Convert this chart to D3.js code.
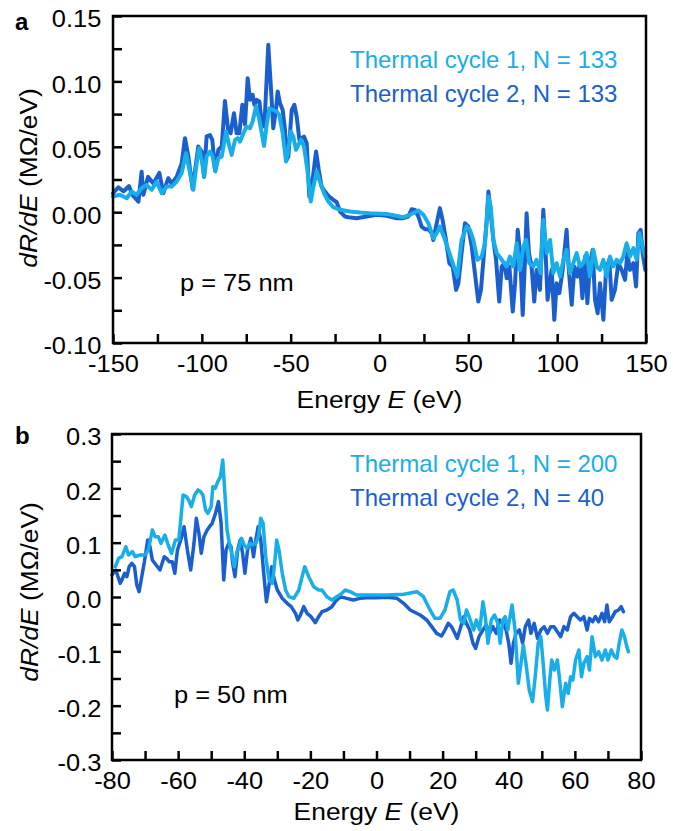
<!DOCTYPE html>
<html>
<head>
<meta charset="utf-8">
<script src="https://cdn.jsdelivr.net/npm/d3@7"></script>
<style>
  body { margin: 0; background: #fff; }
  text { font-family: "Liberation Sans", Arial, Helvetica, sans-serif; }
</style>
</head>
<body>
<svg id="chart" width="673" height="831"></svg>
<script>
// ---- panel a, p = 75 nm ----
let aEnergy1 = [-150,-146.1,-142.3,-139.5,-136.7,-133.9,-131.1,-128.2,-125.4,-122.6,-119.8,-117,-114.2,-111.4,-108.9,-107,-104.8,-102.9,-101.6,-100.1,-98.6,-97.3,-95.4,-93.9,-92.4,-90.7,-88.8,-86.4,-84.5,-83.2,-81.3,-79.8,-78.5,-76.6,-74.8,-72.9,-71.4,-69.5,-67.6,-66.3,-65,-63.5,-62,-59.8,-57.9,-56.4,-54.5,-52.6,-51.3,-50,-48.5,-47,-45.7,-44.2,-42.5,-40.6,-38.7,-37.2,-35.3,-33.5,-31.2,-28.8,-26,-22.2,-16.6,-10.9,-5.4,4,13.4,17.2,21.9,24.7,27.5,30.3,32.2,34,36.9,40.6,43.8,46.2,49.1,50.9,52.8,55.1,57.5,59.4,61.3,62.6,64.1,66,68.8,71.6,73.4,75.3,77.2,79.1,81,82.5,84.3,86.6,88.4,90.7,92.2,94.1,96,97.8,99.7,101.6,103.5,105.3,107.2,109.1,111,112.8,114.7,116.6,118.5,120.4,122.2,124.1,126,127.8,129.7,131.6,133.5,135.4,137.2,139.1,141,142.9,144.7,146.3,147.6,149.6];
let aValue1 = [0.012,0.0133,0.0107,0.0158,0.0133,0.0183,0.0209,0.0171,0.0234,0.0145,0.0196,0.0196,0.0234,0.0298,0.0451,0.0324,0.0171,0.0375,0.0489,0.04,0.0273,0.0426,0.0464,0.0426,0.0311,0.0413,0.0426,0.0617,0.0502,0.0438,0.0553,0.0566,0.054,0.0604,0.0655,0.0642,0.0693,0.0808,0.0706,0.0604,0.0507,0.0668,0.0795,0.0782,0.077,0.0744,0.0604,0.0387,0.0477,0.0617,0.0578,0.0477,0.0515,0.0553,0.0502,0.0324,0.0082,0.0196,0.0311,0.0234,0.0145,0.0082,0.0038,0.0018,0.0005,-0.0003,-0.0008,-0.0013,-0.0038,-0.002,0.0013,-0.002,-0.0084,-0.0199,-0.016,-0.011,-0.0212,-0.0364,-0.0492,-0.0212,-0.011,-0.0135,-0.0212,-0.0364,-0.0339,-0.0237,0.012,0.0043,-0.0212,-0.0313,-0.0364,-0.0415,-0.0339,-0.0415,-0.0237,-0.0441,-0.0262,-0.0212,-0.039,-0.0415,-0.0364,-0.0466,-0.0059,-0.0313,-0.0212,-0.0466,-0.039,-0.0492,-0.0364,-0.0288,-0.0466,-0.039,-0.0313,-0.0415,-0.039,-0.0313,-0.0492,-0.0288,-0.0415,-0.0441,-0.0364,-0.0492,-0.0339,-0.0415,-0.0364,-0.039,-0.0339,-0.0237,-0.0339,-0.0275,-0.0364,-0.016,-0.0237,-0.0339];

let aEnergy2 = [-150,-147,-144,-141,-139,-135.7,-133.9,-132.9,-130.3,-127.3,-123.9,-121.7,-118.9,-117,-114.2,-111.4,-109.5,-107.6,-105.2,-102,-100.1,-98.8,-97.3,-95.4,-94.1,-92.6,-90.7,-88.8,-87,-85.1,-83.8,-81.9,-80.4,-78.9,-77.2,-75.7,-74.2,-72.9,-71.4,-70.4,-69.1,-67.6,-66.3,-64.8,-62.6,-60.7,-59.8,-58.3,-57.3,-56,-54.5,-53.2,-52.3,-51.3,-49.4,-47.9,-46.6,-45.1,-43.8,-42.5,-41,-39.5,-38.7,-37.2,-35.7,-34.2,-32.6,-30.7,-28.8,-26,-24.1,-22.2,-19.4,-17.5,-12.9,-7.2,-1.6,4,9.7,13.4,16.2,18.1,20,21.9,23.7,25.6,27.5,29.4,30.3,32.2,34,35.5,37.4,39.3,41.2,43.1,44.4,46.2,48.1,50,51.9,53.7,55.6,57.1,58.8,60.3,61.3,62.6,64.1,65.6,67.4,68.8,70.3,71.6,73.1,75,76.3,77.8,79.1,80.6,81.9,82.8,84.1,85.6,87.1,88.4,90.3,92.2,93.5,94.6,96.9,98.4,99.7,101.2,103.1,105.3,106.7,108.2,109.7,111.3,112.8,114.2,115.7,117,118.5,120,121.3,122.8,124.1,126,127.5,129.3,130.7,132.5,134.4,136.3,138.2,139.5,141,142.9,144.4,145.7,147,148.1,149.6];
let aValue2 = [0.0145,0.019,0.016,0.02,0.013,0.008,0.031,0.0133,0.027,0.022,0.03,0.0145,0.026,0.022,0.027,0.037,0.0566,0.0426,0.018,0.0502,0.0464,0.027,0.058,0.059,0.0553,0.032,0.0477,0.0502,0.085,0.0617,0.0604,0.0757,0.0604,0.0604,0.0821,0.0668,0.1025,0.0859,0.0897,0.0821,0.0859,0.0846,0.068,0.0655,0.128,0.0859,0.0642,0.0782,0.0923,0.0833,0.0782,0.0629,0.04,0.0426,0.0782,0.0821,0.0731,0.0553,0.0566,0.0578,0.0528,0.012,0.013,0.03,0.0464,0.0324,0.0196,0.0158,0.0125,0.0094,0.0076,0.0005,-0.0033,-0.0038,-0.0046,-0.0033,-0.002,-0.0028,-0.0046,-0.0046,-0.0033,0.0023,0.0018,-0.0033,-0.011,-0.013,-0.013,-0.016,-0.0212,-0.0084,0.0031,-0.0059,-0.0212,-0.039,-0.0415,-0.0594,-0.0543,-0.0313,-0.0084,-0.011,-0.0262,-0.0466,-0.0683,-0.0594,-0.0313,-0.0071,0.0158,-0.0008,-0.0212,-0.0364,-0.0683,-0.0415,-0.039,-0.0505,-0.0415,-0.0759,-0.0543,-0.0135,-0.0313,-0.0785,-0.0364,-0.0008,-0.0313,-0.0415,-0.0683,-0.0441,-0.0594,0.0018,-0.0313,-0.067,-0.0441,-0.0823,-0.0543,-0.0619,-0.0441,-0.0135,-0.0466,-0.0708,-0.0415,-0.0492,-0.039,-0.0657,-0.0339,-0.0696,-0.039,-0.0288,-0.067,-0.0772,-0.0543,-0.0823,-0.0441,-0.0364,-0.067,-0.0594,-0.039,-0.0441,-0.0517,-0.0313,-0.0441,-0.039,-0.0568,-0.016,-0.0135,-0.0313,-0.0441];

// ---- panel b, p = 50 nm ----
let bEnergy1 = [-79,-78,-77,-75.8,-75,-73.8,-73,-71.5,-70,-69,-67.8,-67,-66,-65.2,-64,-63,-62,-60.8,-59.8,-58.5,-57.5,-56.8,-56,-55,-54,-53.2,-52.5,-51.7,-51,-50,-49.5,-48.8,-48,-47.2,-46.5,-45.8,-45.2,-44.5,-44,-43,-42.2,-41.5,-40.8,-40,-39.2,-38.3,-37.5,-36.5,-35.7,-35,-34.3,-33.5,-32.5,-31.5,-30.8,-30.2,-29.5,-28.5,-27.5,-26.5,-25,-23.5,-22.5,-21.7,-20.5,-19,-17.5,-16.5,-15,-13.5,-12,-10.5,-9.5,-8,-6,-3,0,3.2,8.2,12.2,14.2,16.2,17.7,19.2,20.7,22.2,23.2,24.4,25.4,26.4,27.2,28,28.7,29.4,30.2,31.2,32.2,32.9,33.7,34.7,35.7,36.7,37.4,38.2,38.9,39.7,41,41.9,42.9,43.7,44.4,45.2,46.2,47.2,48,48.9,49.7,50.4,51.2,51.7,52.4,53,53.8,54.7,55.4,56.2,57.2,58,58.7,59.4,60.2,61.2,62,62.7,63.7,64.4,65.2,66.2,67.2,68.2,69.2,70,71,72,72.7,73.4,74.2,75,75.7,76.2];
let bValue1 = [0.0558,0.0712,0.0742,0.0926,0.0773,0.0834,0.0742,0.0773,0.0773,0.0865,0.1233,0.111,0.111,0.0988,0.1141,0.0957,0.0804,0.1049,0.1049,0.1877,0.1847,0.1785,0.1663,0.1877,0.197,0.1939,0.1877,0.1601,0.154,0.1663,0.203,0.2,0.2123,0.2215,0.252,0.1847,0.1233,0.0988,0.0865,0.0558,0.0834,0.0926,0.108,0.0957,0.0896,0.0988,0.0957,0.0988,0.111,0.1448,0.1356,0.0742,0.0313,0.0252,0.062,0.1049,0.0865,0.0436,0.0129,0.0006,-0.0025,0.0129,0.0374,0.0558,0.0374,0.019,0.0129,0.0129,0.0006,-0.0055,0.0006,0.0067,0.0129,0.0098,0.0037,0.0037,0.0037,0.0037,0.0049,0.0098,0.0006,-0.0239,-0.0393,-0.0393,-0.0239,0.0098,0.0129,-0.0055,-0.0423,-0.0485,-0.0239,-0.0362,-0.0485,-0.0607,-0.0423,-0.0607,-0.0086,-0.0362,-0.0853,-0.0423,-0.0331,-0.0485,-0.0853,-0.0423,-0.0362,-0.0607,-0.0147,-0.0607,-0.1589,-0.1221,-0.0883,-0.1221,-0.1712,-0.1926,-0.1466,-0.0853,-0.073,-0.1221,-0.1834,-0.208,-0.1528,-0.116,-0.1344,-0.116,-0.1528,-0.2018,-0.1589,-0.1773,-0.1466,-0.1528,-0.116,-0.0975,-0.1466,-0.1221,-0.1098,-0.1344,-0.073,-0.1098,-0.1006,-0.116,-0.0975,-0.116,-0.0975,-0.1098,-0.1129,-0.0853,-0.0607,-0.073,-0.0914,-0.1006];

let bEnergy2 = [-80,-78.8,-78.2,-77.5,-77,-76.2,-75.5,-74.8,-74,-73.2,-72.5,-71.8,-71,-70.2,-69.2,-68.5,-67.8,-65.5,-64.2,-63.5,-62.7,-61.8,-61,-60.2,-59.2,-58.2,-57.2,-56.2,-55.2,-54.5,-53.7,-53,-52.2,-51.2,-50.5,-49.7,-48.7,-47.8,-47,-46.2,-45.5,-44.7,-44,-43.5,-42.8,-42,-41.2,-40.5,-39.8,-39,-38,-37.2,-36.5,-35.8,-35,-34.2,-33.3,-32.5,-31.7,-31,-30,-28.5,-27,-25.8,-24.5,-23.8,-23,-22,-21,-19.8,-18.5,-17.5,-16.5,-15,-13.5,-12.5,-11,-9,-7,-5,-3,0,3.2,6.2,8.2,10.2,13.2,15.2,16.7,18.2,19.7,20.7,21.7,22.7,23.7,24.4,25.2,26.4,27.2,28.2,29.2,30,31,32.2,33.2,34.2,35.2,36.2,37.2,38.2,39.2,40,40.7,41.4,42.2,43.2,44.2,45,46,46.7,47.7,48.7,49.7,50.7,51.7,52.7,53.7,54.7,55.7,56.7,57.7,58.7,59.7,60.7,61.7,62.7,63.7,64.4,65.4,66.2,67.2,68.2,69,69.7,70.4,71.4,72.2,73.2,74,74.7];
let bValue2 = [0.0405,0.0497,0.0374,0.0252,0.0313,0.0436,0.0374,0.0558,0.062,0.0558,0.0221,0.0098,0.0374,0.065,0.1049,0.0926,0.0681,0.0497,0.0742,0.0712,0.065,0.065,0.0436,0.0865,0.1049,0.1294,0.0865,0.0497,0.0988,0.1448,0.1172,0.0804,0.111,0.1233,0.1294,0.1356,0.154,0.1755,0.1356,0.0313,0.0865,0.0988,0.0926,0.062,0.0374,0.0865,0.1049,0.0804,0.0436,0.0865,0.108,0.0742,0.1049,0.1294,0.1049,0.0497,-0.0086,0.0221,0.0558,0.0344,0.0129,-0.0025,-0.0117,-0.0178,-0.0301,-0.0423,-0.0331,-0.0178,-0.0301,-0.0362,-0.0472,-0.0362,-0.027,-0.0239,-0.0178,-0.0086,0.0006,-0.0025,-0.0055,-0.0025,-0.0012,-0.0012,-0.0006,-0.0025,-0.0117,-0.0239,-0.0331,-0.0423,-0.0546,-0.0669,-0.0718,-0.0607,-0.0485,-0.0546,-0.0669,-0.0761,-0.0607,-0.0362,-0.0485,-0.0607,-0.0853,-0.0945,-0.073,-0.0607,-0.0515,-0.0669,-0.0546,-0.0669,-0.0423,-0.0485,-0.0607,-0.0853,-0.1221,-0.0853,-0.0669,-0.0607,-0.0853,-0.0546,-0.0423,-0.0669,-0.0485,-0.0761,-0.0607,-0.0546,-0.0669,-0.0546,-0.0546,-0.0638,-0.073,-0.0546,-0.0607,-0.0362,-0.0301,-0.0362,-0.0423,-0.0362,-0.0607,-0.0393,-0.0454,-0.0362,-0.0454,-0.0301,-0.0454,-0.0147,-0.0454,-0.0362,-0.027,-0.0239,-0.0178,-0.027];

// ---- ticks and labels ----
let aXTicks = [-150,-125,-100,-75,-50,-25,0,25,50,75,100,125,150];
let aXLabeled = [-150,-100,-50,0,50,100,150];
let aYTicks = [-0.1,-0.075,-0.05,-0.025,0,0.025,0.05,0.075,0.1,0.125,0.15];
let aYLabeled = [-0.1,-0.05,0,0.05,0.1,0.15];
let bXTicks = [-80,-70,-60,-50,-40,-30,-20,-10,0,10,20,30,40,50,60,70,80];
let bXLabeled = [-80,-60,-40,-20,0,20,40,60,80];
let bYTicks = [-0.3,-0.25,-0.2,-0.15,-0.1,-0.05,0,0.05,0.1,0.15,0.2,0.25,0.3];
let bYLabeled = [-0.3,-0.2,-0.1,0,0.1,0.2,0.3];

let aLegend = ["Thermal cycle 1, N = 133", "Thermal cycle 2, N = 133"];
let bLegend = ["Thermal cycle 1, N = 200", "Thermal cycle 2, N = 40"];

let lightBlue = "#17aeea";
let darkBlue = "#1b5fcf";

let svg = d3.select("#chart");

function isIn(list, d){
	return list.some(function(v){ return Math.abs(v - d) < 1e-9; });
}

function drawPanel(p){
	let x = d3.scaleLinear().domain(p.xDomain).range([p.left, p.right]);
	let y = d3.scaleLinear().domain(p.yDomain).range([p.bottom, p.top]);
	let g = svg.append("g");

	let line = d3.line()
		.x(function(d){ return x(d[0]); })
		.y(function(d){ return y(d[1]); });

	// dark first, light drawn over it
	p.series.forEach(function(s){
		g.append("path")
			.datum(d3.zip(s.energy, s.value))
			.attr("fill", "none")
			.attr("stroke", s.color)
			.attr("stroke-width", p.lineWidth)
			.attr("stroke-linejoin", "round")
			.attr("stroke-linecap", "round")
			.attr("d", line);
	});

	let xAxisCall = d3.axisBottom(x)
		.tickValues(p.xTicks)
		.tickSizeInner(-9)
		.tickSizeOuter(0)
		.tickPadding(12)
		.tickFormat(function(d){ return isIn(p.xLabeled, d) ? String(d) : ""; });
	let xAxis = g.append("g")
		.attr("transform", "translate(0," + p.bottom + ")")
		.call(xAxisCall);

	let yAxisCall = d3.axisLeft(y)
		.tickValues(p.yTicks)
		.tickSizeInner(-9)
		.tickSizeOuter(0)
		.tickPadding(p.yPad)
		.tickFormat(function(d){ return isIn(p.yLabeled, d) ? d.toFixed(p.yDigits) : ""; });
	let yAxis = g.append("g")
		.attr("transform", "translate(" + p.left + ",0)")
		.call(yAxisCall);

	[xAxis, yAxis].forEach(function(a){
		a.select(".domain").remove();
		a.selectAll("line").attr("stroke", "#000").attr("stroke-width", 2.5);
		a.selectAll("text")
			.attr("fill", "#000")
			.attr("font-size", "24px")
			.attr("font-family", "Liberation Sans, Arial, sans-serif")
			.attr("transform", "scale(1.06,1)");
	});
	yAxis.selectAll("text").attr("dy", "0.45em");

	g.append("rect")
		.attr("x", p.left)
		.attr("y", p.top)
		.attr("width", p.right - p.left)
		.attr("height", p.bottom - p.top)
		.attr("fill", "none")
		.attr("stroke", "#000")
		.attr("stroke-width", 2.5);

	// axis titles
	let xt = g.append("text")
		.attr("text-anchor", "middle")
		.attr("font-size", "24px")
		.attr("transform", "translate(" + ((p.left + p.right) / 2) + "," + p.xTitleY + ") scale(1.1,1)");
	xt.append("tspan").text("Energy ");
	xt.append("tspan").attr("font-style", "italic").text("E");
	xt.append("tspan").text(" (eV)");

	let yt = g.append("text")
		.attr("text-anchor", "middle")
		.attr("font-size", "24px")
		.attr("transform", "translate(" + p.yTitleX + "," + p.yTitleY + ") rotate(-90) scale(1.1,1)");
	yt.append("tspan").attr("font-style", "italic").text("dR/dE");
	yt.append("tspan").text(" (M\u03A9/eV)");

	// panel letter
	g.append("text")
		.attr("x", 15)
		.attr("y", p.letterY)
		.attr("font-size", "24px")
		.attr("font-weight", "bold")
		.text(p.letter);

	// legend
	p.legend.forEach(function(t, i){
		g.append("text")
			.attr("x", 350)
			.attr("y", p.legendY + i * 33.5)
			.attr("font-size", "24px")
			.attr("fill", i === 0 ? lightBlue : darkBlue)
			.text(t);
	});

	g.append("text")
		.attr("font-size", "24px")
		.attr("transform", "translate(" + p.noteX + "," + p.noteY + ") scale(1.06,1)")
		.text(p.note);
}

drawPanel({
	letter: "a", letterY: 30,
	left: 113, right: 646, top: 16, bottom: 343,
	xDomain: [-150, 150], yDomain: [-0.1, 0.15],
	xTicks: aXTicks, xLabeled: aXLabeled,
	yTicks: aYTicks, yLabeled: aYLabeled, yDigits: 2, yPad: 11,
	lineWidth: 4,
	series: [
		{ energy: aEnergy2, value: aValue2, color: darkBlue },
		{ energy: aEnergy1, value: aValue1, color: lightBlue }
	],
	xTitleY: 408, yTitleX: 37, yTitleY: 178,
	legend: aLegend, legendY: 68,
	note: "p = 75 nm", noteX: 180, noteY: 291
});

drawPanel({
	letter: "b", letterY: 444,
	left: 112, right: 641, top: 434, bottom: 760,
	xDomain: [-80, 80], yDomain: [-0.3, 0.3],
	xTicks: bXTicks, xLabeled: bXLabeled,
	yTicks: bYTicks, yLabeled: bYLabeled, yDigits: 1, yPad: 10,
	lineWidth: 3.5,
	series: [
		{ energy: bEnergy2, value: bValue2, color: darkBlue },
		{ energy: bEnergy1, value: bValue1, color: lightBlue }
	],
	xTitleY: 820, yTitleX: 38, yTitleY: 592,
	legend: bLegend, legendY: 472,
	note: "p = 50 nm", noteX: 174, noteY: 703
});
</script>
</body>
</html>
